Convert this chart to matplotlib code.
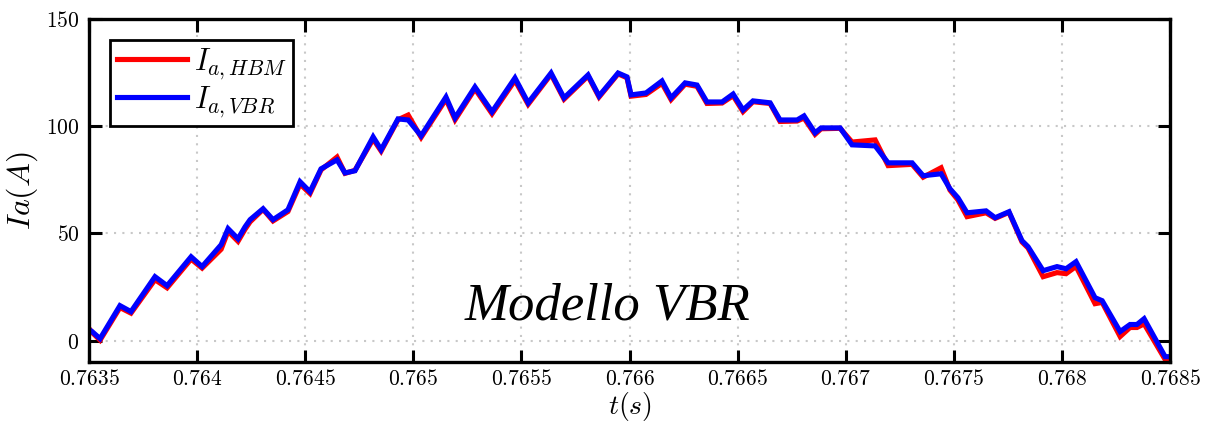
import matplotlib
matplotlib.use("Agg")
import matplotlib.pyplot as plt

plt.rcParams['mathtext.fontset'] = 'cm'

# time samples (s)
t = [0.763500, 0.763514, 0.763551, 0.763643, 0.763694, 0.763805, 0.763861, 0.763972,
     0.764023, 0.764111, 0.764143, 0.764189, 0.764222, 0.764245, 0.764305, 0.764351,
     0.764420, 0.764476, 0.764522, 0.764573, 0.764647, 0.764684, 0.764730, 0.764814,
     0.764851, 0.764929, 0.764976, 0.765036, 0.765151, 0.765193, 0.765285, 0.765364,
     0.765470, 0.765531, 0.765637, 0.765697, 0.765808, 0.765859, 0.765947, 0.765988,
     0.766007, 0.766076, 0.766150, 0.766192, 0.766257, 0.766312, 0.766358, 0.766428,
     0.766479, 0.766525, 0.766571, 0.766650, 0.766696, 0.766775, 0.766807, 0.766858,
     0.766886, 0.766974, 0.767029, 0.767136, 0.767196, 0.767307, 0.767358, 0.767441,
     0.767482, 0.767519, 0.767561, 0.767649, 0.767691, 0.767755, 0.767815, 0.767843,
     0.767913, 0.767977, 0.768019, 0.768065, 0.768153, 0.768186, 0.768269, 0.768315,
     0.768347, 0.768380, 0.768477, 0.768500]

# VBR model current (A)
ia_vbr = [5.1, 4.2, 0.9, 16.3, 13.5, 29.8, 25.6, 39.1,
          34.5, 44.7, 52.2, 47.5, 53.1, 56.4, 61.5, 56.4,
          61.0, 74.1, 69.4, 80.1, 84.3, 78.2, 79.2, 95.0,
          89.0, 103.4, 102.9, 95.5, 113.6, 103.9, 118.3, 106.7,
          122.5, 110.9, 124.8, 113.2, 123.9, 114.1, 124.8, 123.0,
          114.6, 115.5, 121.1, 113.2, 120.2, 119.2, 111.3, 111.3,
          115.0, 107.6, 111.8, 110.9, 102.9, 102.9, 104.8, 96.9,
          99.2, 99.2, 91.3, 90.8, 82.9, 82.9, 76.9, 77.8,
          70.8, 66.6, 59.6, 60.5, 57.3, 60.1, 46.6, 43.8,
          32.6, 34.5, 33.5, 36.8, 20.0, 18.6, 4.2, 7.5,
          7.5, 10.2, -7.5, -7.5]

# HBM model current (A)
ia_hbm = [5.6, 3.8, 0.2, 15.4, 12.8, 28.4, 24.6, 38.0,
          33.8, 42.6, 51.0, 46.3, 52.0, 55.4, 61.2, 55.8,
          60.2, 73.0, 68.6, 79.6, 85.6, 78.0, 79.4, 94.0,
          88.4, 103.0, 105.2, 94.8, 112.6, 103.0, 117.4, 105.8,
          121.4, 110.2, 124.2, 112.6, 123.4, 113.6, 124.4, 122.6,
          114.0, 114.8, 120.0, 112.4, 119.6, 118.6, 110.6, 110.8,
          114.2, 106.8, 111.4, 110.6, 102.2, 102.4, 103.8, 96.2,
          98.8, 99.0, 92.6, 93.6, 81.6, 82.2, 76.2, 80.6,
          70.2, 65.6, 57.8, 59.6, 57.0, 59.8, 46.0, 43.2,
          29.8, 31.7, 31.2, 34.6, 17.2, 17.8, 1.9, 6.1,
          6.1, 7.8, -8.8, -8.8]

xticks = [0.7635, 0.764, 0.7645, 0.765, 0.7655, 0.766, 0.7665, 0.767, 0.7675, 0.768, 0.7685]
xticklabels = ['0.7635', '0.764', '0.7645', '0.765', '0.7655', '0.766', '0.7665',
               '0.767', '0.7675', '0.768', '0.7685']
yticks = [0, 50, 100, 150]
yticklabels = ['0', '50', '100', '150']

fig = plt.figure(figsize=(12.13, 4.24), dpi=100)
ax = fig.add_axes([0.0734, 0.1462, 0.8912, 0.809])

ax.plot(t, ia_hbm, color='#ff0000', lw=3.7, label=r'$I_{a,HBM}$', solid_joinstyle='miter')
ax.plot(t, ia_vbr, color='#0000ff', lw=3.7, label=r'$I_{a,VBR}$', solid_joinstyle='miter')

ax.set_xlim(0.7635, 0.7685)
ax.set_ylim(-10, 150)
ax.set_xticks(xticks)
ax.set_xticklabels(['$' + s + '$' for s in xticklabels], fontsize=15.5)
ax.set_yticks(yticks)
ax.set_yticklabels(['$' + s + '$' for s in yticklabels], fontsize=15.5)
ax.tick_params(direction='in', length=9, width=2.2, top=True, right=True)
ax.tick_params(axis='x', pad=5)
ax.tick_params(axis='y', pad=7)
for sp in ax.spines.values():
    sp.set_linewidth(2.4)
ax.grid(True, linestyle=(0, (1, 3)), color='#c8c8c8', lw=1.5)

ax.set_xlabel('$t(s)$', fontsize=20, labelpad=1)
ax.set_ylabel('$Ia(A)$', fontsize=23, labelpad=4)

leg = ax.legend(loc='upper left', fontsize=22, fancybox=False, framealpha=1,
                edgecolor='black', handlelength=2.3, borderpad=0.2,
                labelspacing=0.1, handletextpad=0.25, borderaxespad=0.7)
leg.get_frame().set_linewidth(2)

ax.text(0.48, 0.162, 'Modello VBR', transform=ax.transAxes, ha='center', va='center',
        fontsize=38, style='italic', family='Liberation Serif')

fig.savefig('out.png', dpi=100)
